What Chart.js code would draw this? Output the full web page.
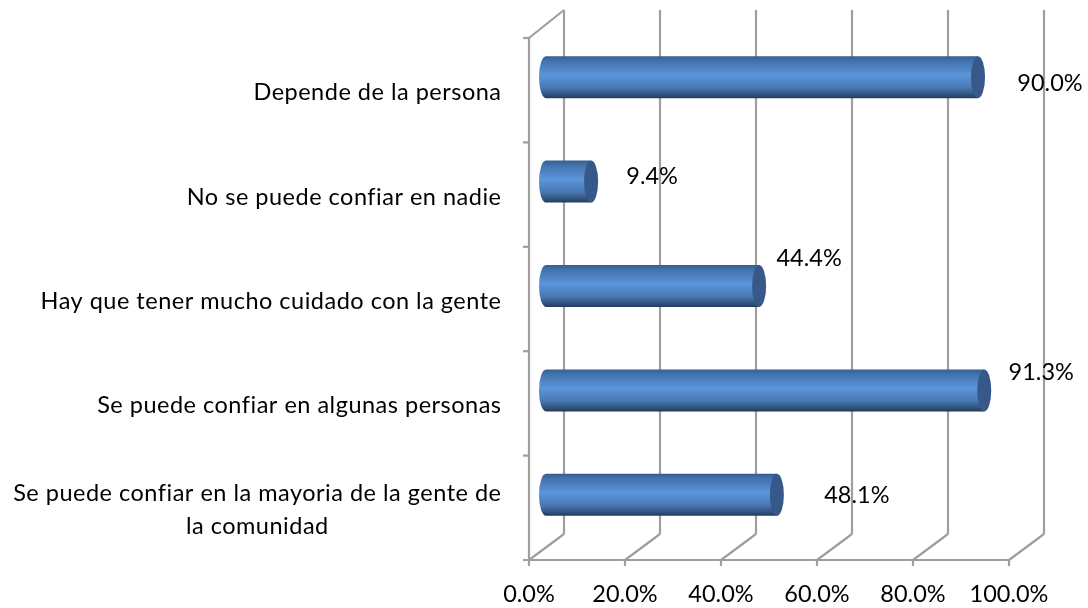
<!DOCTYPE html>
<html>
<head>
<meta charset="utf-8">
<title>Confianza</title>
<script src="https://cdn.jsdelivr.net/npm/chart.js@4"></script>
<style>
  body { margin: 0; background: #fff; }
  canvas { display: block; }
</style>
</head>
<body>
<canvas id="trustChart" width="1088" height="608"></canvas>
<script>
// Chart data
const categories = [
  'Depende de la persona',
  'No se puede confiar en nadie',
  'Hay que tener mucho cuidado con la gente',
  'Se puede confiar en algunas personas',
  ['Se puede confiar en la mayoria de la gente de', 'la comunidad']
];
const values = [90.0, 9.4, 44.4, 91.3, 48.1];
const xTicks = [0, 20, 40, 60, 80, 100];

// Hand placed value labels, pixels away from the end of each bar
const labelNudgeX = [72, 61, 50, 57, 80];
const labelNudgeY = [6, -5, -28, -18, 1];

const FONT = '"Lato", "Open Sans", sans-serif';
const FONT_SIZE = 23.5;
const LINE = '#9f9f9f';
// 3D look: depth of the floor and where the bars sit inside it
const DEPTH_X = 35, DEPTH_Y = -26;
const BAR_X = 17, BAR_Y = -13;
const BAR_H = 42, CAP_RX = 7;

function barGradient(ctx) {
  const mid = ctx.chart.scales.y ? ctx.chart.scales.y.getPixelForValue(ctx.dataIndex) : NaN;
  // the first pass runs before layout, there is no pixel to use yet
  if (!Number.isFinite(mid)) return '#5b94d6';
  const g = ctx.chart.ctx.createLinearGradient(0, mid - BAR_H / 2, 0, mid + BAR_H / 2);
  g.addColorStop(0, '#345e92');
  g.addColorStop(0.12, '#4373ad');
  g.addColorStop(0.45, '#5c95da');
  g.addColorStop(0.75, '#4878b3');
  g.addColorStop(0.93, '#2f4f78');
  g.addColorStop(1, '#22395a');
  return g;
}

function strokeLine(c, x1, y1, x2, y2) {
  c.beginPath();
  c.moveTo(x1, y1);
  c.lineTo(x2, y2);
  c.stroke();
}

// Back wall, floor and axes behind the bars, category labels on the left
const wallsPlugin = {
  id: 'walls',
  beforeDatasetsDraw(chart) {
    const c = chart.ctx, x = chart.scales.x, y = chart.scales.y;
    const area = chart.chartArea;
    c.save();
    c.strokeStyle = LINE;
    c.lineWidth = 2.2;
    xTicks.forEach(t => {
      const px = x.getPixelForValue(t);
      strokeLine(c, px + DEPTH_X, area.top + DEPTH_Y - 2, px + DEPTH_X, area.bottom + DEPTH_Y);
      strokeLine(c, px + DEPTH_X, area.bottom + DEPTH_Y, px, area.bottom);
      strokeLine(c, px, area.bottom, px, area.bottom + 6);
    });
    strokeLine(c, area.left, area.top, area.left, area.bottom);
    strokeLine(c, area.left, area.top, area.left + DEPTH_X, area.top + DEPTH_Y - 2);
    strokeLine(c, area.left - 6, area.bottom, area.right, area.bottom);
    const band = (area.bottom - area.top) / categories.length;
    for (let i = 0; i < categories.length; i++) {
      const py = area.top + band * i;
      strokeLine(c, area.left - 6, py, area.left, py);
    }

    c.fillStyle = '#000';
    c.font = FONT_SIZE + 'px ' + FONT;
    c.letterSpacing = '0.5px';
    c.textAlign = 'center';
    c.textBaseline = 'middle';
    categories.forEach((label, i) => {
      const lines = Array.isArray(label) ? label : [label];
      const w = Math.max(...lines.map(l => c.measureText(l).width));
      const mid = y.getPixelForValue(i) + 2.5;
      lines.forEach((l, j) => {
        c.fillText(l, 501.5 - w / 2, mid + (j - (lines.length - 1) / 2) * 33);
      });
    });
    c.letterSpacing = '0px';
    c.restore();
  },
  // bars get moved into the middle of the floor depth
  beforeDatasetDraw(chart) {
    chart.ctx.save();
    chart.ctx.translate(BAR_X, BAR_Y);
  },
  afterDatasetDraw(chart, args) {
    const c = chart.ctx;
    args.meta.data.forEach(bar => {
      c.fillStyle = bar.options.backgroundColor;
      c.beginPath();
      c.ellipse(bar.base, bar.y, CAP_RX, BAR_H / 2, 0, Math.PI / 2, Math.PI * 1.5);
      c.fill();
      c.fillStyle = '#36598a';
      c.beginPath();
      c.ellipse(bar.x, bar.y, CAP_RX, BAR_H / 2, 0, 0, Math.PI * 2);
      c.fill();
    });
    c.restore();
  },
  afterDatasetsDraw(chart) {
    const c = chart.ctx;
    c.save();
    c.fillStyle = '#000';
    c.font = FONT_SIZE + 'px ' + FONT;
    c.textAlign = 'center';
    c.textBaseline = 'middle';
    chart.getDatasetMeta(0).data.forEach((bar, i) => {
      c.fillText(values[i].toFixed(1) + '%',
        bar.x + BAR_X + labelNudgeX[i],
        bar.y + BAR_Y + labelNudgeY[i]);
    });
    c.restore();
  }
};

const ctx = document.getElementById('trustChart').getContext('2d');
new Chart(ctx, {
  type: 'bar',
  data: {
    labels: categories,
    datasets: [{
      data: values,
      backgroundColor: barGradient,
      borderWidth: 0,
      categoryPercentage: 1,
      barPercentage: 0.402,
      clip: false
    }]
  },
  options: {
    indexAxis: 'y',
    responsive: false,
    animation: false,
    layout: { padding: { top: 38, right: 79 } },
    plugins: {
      legend: { display: false },
      tooltip: { enabled: false }
    },
    scales: {
      x: {
        min: 0,
        max: 100,
        afterBuildTicks: scale => { scale.ticks = xTicks.map(value => ({ value })); },
        afterFit: scale => { scale.height = 48; },
        grid: { display: false },
        border: { display: false },
        ticks: {
          color: '#000',
          padding: 12,
          maxRotation: 0,
          font: { family: FONT, size: FONT_SIZE },
          callback: v => v.toFixed(1) + '%'
        }
      },
      y: {
        afterFit: scale => { scale.width = 529; },
        grid: { display: false },
        border: { display: false },
        ticks: { display: false }
      }
    }
  },
  plugins: [wallsPlugin]
});
</script>
</body>
</html>
